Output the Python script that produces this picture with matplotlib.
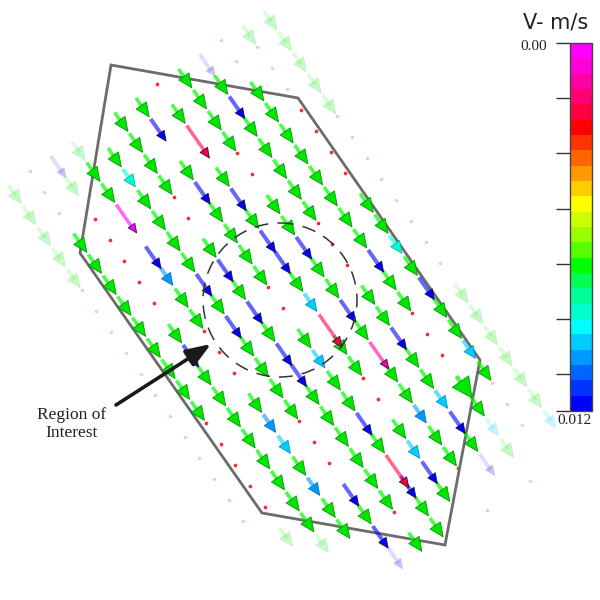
import numpy as np
import matplotlib
matplotlib.use("Agg")
import matplotlib.pyplot as plt
from matplotlib.colors import ListedColormap, Normalize, to_rgba
from matplotlib.collections import LineCollection
from matplotlib.patches import Circle, Polygon
from matplotlib.path import Path
from matplotlib.cm import ScalarMappable

# mesh in the picture's pixel frame (y grows downwards)
MESH_ORIGIN = np.array([139.0, 282.0])
MESH_ALONG = np.array([14.7, 21.0])     # one node along a flow line
MESH_ACROSS = np.array([36.0, 6.5])     # one flow line to the next
J_FIRST = -16

LINE_INDEX = list(range(-2, 11))
# one character per node, j = -16 ... 13
# g/G green, b blue, s sky, c cyan, a aqua, r red, p pink, m magenta, . node dot, - empty
NODE_CODES = [
    "------------ggggg............-",
    "-----------...ggggggggg.....g-",
    "----------bg-.....gbggggggggg-",
    "---------gggm-bsgg...gscgsgg--",
    "---------gaggggbgbgggg...bgbb-",
    "-------gggg..gbgbgbbgggggg.g--",
    "------gb-gbgggg..gcggbgrbgg---",
    "-----.gr-gbgbbgcrgg..gcbg-----",
    "----gggg..ggbggbgpggsgg.-.----",
    "---bgbggggg...ggbggcbgb-------",
    "--..ggggggggbgg...Ggcg-.------",
    "-g.......ggagbggcg...---------",
    "ggggg........ggggggc----------",
]
SPEED = {"g": 0.0072, "G": 0.0072, "b": 0.0117, "s": 0.0104, "c": 0.0095,
         "a": 0.0086, "r": 0.0024, "p": 0.0012, "m": 0.0004}

DOMAIN = [(111, 65), (298, 98), (480, 360), (445, 545), (262, 513), (80, 253)]
ROI_CENTER = (280, 300)
ROI_RADIUS = 77
ROI_TEXT = "Region of\nInterest"

CBAR_COLORS = ["#ff00ff", "#ff00d9", "#ff00a6", "#ff0073", "#ff0040", "#ff0000",
               "#ff3300", "#ff6600", "#ff9900", "#ffcc00", "#ffff00", "#ccff00",
               "#99ff00", "#55ff00", "#00ff00", "#00ff55", "#00ff99", "#00ffcc",
               "#00ffff", "#00ccff", "#0099ff", "#0066ff", "#0033ff", "#0000ff"]
CBAR_RANGE = (0.0, 0.012)
CBAR_TICKS = [0.0, 0.0018, 0.0036, 0.0054, 0.0072, 0.0090, 0.0108, 0.012]
CBAR_LABELS = ["0.00", "0.012"]
CBAR_TITLE = "V- m/s"

# arrow look per code: length (node steps), head length px, head width px, shaft px
STYLE = {
    "g": (0.90, 14, 12.5, 3.6),
    "G": (1.00, 20, 20, 4.5),
    "b": (1.05, 10, 9, 4.0),
    "s": (0.85, 12, 11, 4.0),
    "c": (0.85, 12, 11, 4.0),
    "a": (0.85, 12, 11, 4.0),
    "r": (1.55, 10, 9, 3.5),
    "p": (1.25, 9, 8, 3.5),
    "m": (1.35, 9, 8, 3.5),
}

cmap = ListedColormap(CBAR_COLORS)
norm = Normalize(*CBAR_RANGE)

fig = plt.figure(figsize=(6, 6), dpi=100)
ax = fig.add_axes([0, 0, 1, 1])
ax.set_xlim(0, 600)
ax.set_ylim(600, 0)
ax.axis("off")

# nodes
step = np.hypot(*MESH_ALONG)
unit = MESH_ALONG / step
dom = np.array(DOMAIN, float)
centre = dom.mean(axis=0)
test_path = Path(centre + 1.03 * (dom - centre))

dots_in, dots_out = [], []
arrows = []  # (tail, code, inside)
for i, codes in zip(LINE_INDEX, NODE_CODES):
    for k, ch in enumerate(codes):
        j = J_FIRST + k
        p = MESH_ORIGIN + i * MESH_ACROSS + j * MESH_ALONG
        if ch == ".":
            (dots_in if test_path.contains_point(p) else dots_out).append(p)
        elif ch != "-":
            inside = test_path.contains_point(p + 0.25 * MESH_ALONG)
            arrows.append((p, ch, inside))

if dots_out:
    d = np.array(dots_out)
    ax.scatter(d[:, 0], d[:, 1], s=6, color="#ffc4c4", lw=0, zorder=2)
d = np.array(dots_in)
ax.scatter(d[:, 0], d[:, 1], s=7, color="#ff2a2a", lw=0, zorder=2)

ax.add_patch(Polygon(DOMAIN, closed=True, fill=False, ec="#6c6c6c", lw=2.0,
                     joinstyle="miter", zorder=3))


def draw_group(code, inside):
    pts = [p for p, c, ins in arrows if c == code and ins == inside]
    if not pts:
        return
    pts = np.array(pts)
    length, hl, hw, sw = STYLE[code]
    tips = pts + length * step * unit
    bases = tips - hl * unit
    rgb = np.array(to_rgba(cmap(norm(SPEED[code]))))
    fade = 1.0 if inside else 0.22
    shaft_col = rgb.copy()
    shaft_col[3] = (0.72 if code in "gG" else 0.6) * fade
    segs = np.stack([pts, bases + 0.3 * hl * unit], axis=1)
    ax.add_collection(LineCollection(segs, colors=[shaft_col], linewidths=sw * 0.72,
                                     capstyle="butt", zorder=4 if inside else 1))
    face = rgb.copy()
    if code in "gG":
        face[:3] *= 0.9
        edge = rgb.copy()
        edge[:3] *= 0.55
    elif code in "brpm":
        edge = np.array([0.05, 0.05, 0.15, 1.0])
    else:
        edge = rgb.copy()
        edge[:3] *= 0.7
    face[3] = fade
    edge[3] = 0.9 * fade if inside else 0.1
    w = 2.0
    uv = unit * hl * 1.001
    ax.quiver(bases[:, 0], bases[:, 1], np.full(len(pts), uv[0]), np.full(len(pts), uv[1]),
              angles="xy", scale_units="xy", scale=1, units="xy", width=w,
              headwidth=hw / w, headlength=hl / w, headaxislength=hl / w,
              pivot="tail", color=[face], edgecolor=[edge], linewidth=0.6,
              zorder=5 if inside else 1)


for code in STYLE:
    draw_group(code, False)
for code in STYLE:
    draw_group(code, True)

ax.add_patch(Circle(ROI_CENTER, ROI_RADIUS, fill=False, ec="#333333", lw=1.1,
                    ls=(0, (9, 6)), zorder=6))

ax.annotate("", xy=(211, 344), xytext=(116, 405),
            arrowprops=dict(arrowstyle="-|>,head_length=0.75,head_width=0.28",
                            lw=2.6, color="#1a1a1a", mutation_scale=20,
                            shrinkA=0, shrinkB=0), zorder=7)
ax.text(72, 424, ROI_TEXT, ha="center", va="center", family="Liberation Serif",
        fontsize=12.5, linespacing=1.15, color="#222222")

# colour bar
cax = fig.add_axes([570 / 600, 1 - 411 / 600, 22 / 600, 368 / 600])
cbar = fig.colorbar(ScalarMappable(norm=norm, cmap=cmap), cax=cax)
cbar.ax.invert_yaxis()
cbar.set_ticks(CBAR_TICKS)
cbar.set_ticklabels([""] * len(CBAR_TICKS))
cax.yaxis.set_ticks_position("left")
cax.tick_params(axis="y", length=10, width=1.0, color="#333333", direction="out")
cbar.outline.set_edgecolor("#444444")
cbar.outline.set_linewidth(1.0)

ax.text(547, 47, CBAR_LABELS[0], ha="right", va="center", family="Liberation Serif",
        fontsize=11, color="#222222")
ax.text(575, 420, CBAR_LABELS[1], ha="center", va="center", family="Liberation Serif",
        fontsize=11, color="#222222")
ax.text(556, 22, CBAR_TITLE, ha="center", va="center", family="DejaVu Sans",
        fontsize=15, color="#222222")

fig.savefig("out.png", dpi=100, facecolor="white")
